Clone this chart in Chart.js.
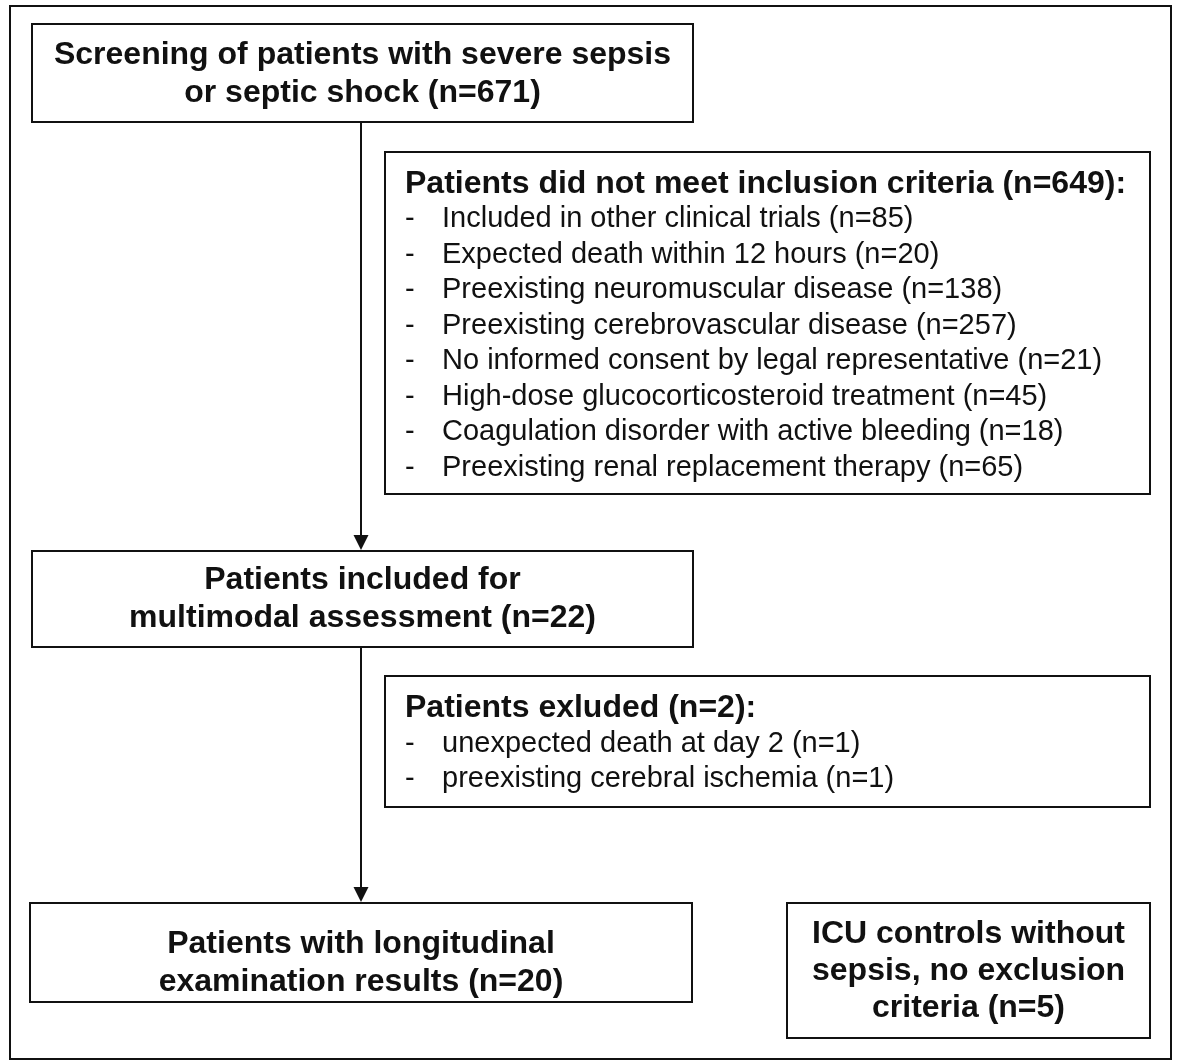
<!DOCTYPE html>
<html>
<head>
<meta charset="utf-8">
<script src="https://cdn.jsdelivr.net/npm/chart.js@4/dist/chart.umd.min.js"></script>
<style>
  html,body{margin:0;padding:0;background:#fff;}
  #wrap{width:1178px;height:1061px;position:relative;}
</style>
</head>
<body>
<div id="wrap"><canvas id="flow"></canvas></div>
<script>
// flowchart content
const screeningLines = ['Screening of patients with severe sepsis', 'or septic shock (n=671)'];
const notMetTitle = 'Patients did not meet inclusion criteria (n=649):';
const notMetReasons = [
  'Included in other clinical trials',
  'Expected death within 12 hours',
  'Preexisting neuromuscular disease',
  'Preexisting cerebrovascular disease',
  'No informed consent by legal representative',
  'High-dose glucocorticosteroid treatment',
  'Coagulation disorder with active bleeding',
  'Preexisting renal replacement therapy'
];
const notMetCounts = [85, 20, 138, 257, 21, 45, 18, 65];
const includedLines = ['Patients included for', 'multimodal assessment (n=22)'];
const excludedTitle = 'Patients exluded (n=2):';
const excludedReasons = ['unexpected death at day 2', 'preexisting cerebral ischemia'];
const excludedCounts = [1, 1];
const longitudinalLines = ['Patients with longitudinal', 'examination results (n=20)'];
const controlLines = ['ICU controls without', 'sepsis, no exclusion', 'criteria (n=5)'];

// layout in page units (x: 0..1178, y: 0..1061 top-down)
const boxes = [
  {x0:32, y0:24, x1:693, y1:122, lines:screeningLines, align:'center', base:64, step:38},
  {x0:385, y0:152, x1:1150, y1:494, title:notMetTitle, items:notMetReasons.map((r,i)=>`${r} (n=${notMetCounts[i]})`), base:193, first:227, step:35.5},
  {x0:32, y0:551, x1:693, y1:647, lines:includedLines, align:'center', base:589, step:38},
  {x0:385, y0:676, x1:1150, y1:807, title:excludedTitle, items:excludedReasons.map((r,i)=>`${r} (n=${excludedCounts[i]})`), base:717, first:752, step:35},
  {x0:30, y0:903, x1:692, y1:1002, lines:longitudinalLines, align:'center', base:953, step:38},
  {x0:787, y0:903, x1:1150, y1:1038, lines:controlLines, align:'center', base:943, step:37}
];
const arrows = [{x:361, y0:122, y1:551}, {x:361, y0:647, y1:903}];

const BOLD = 'bold 32px "Liberation Sans", Arial, sans-serif';
const REG = '29px "Liberation Sans", Arial, sans-serif';
const INK = '#111';

const flowPlugin = {
  id:'flow',
  afterDraw(chart){
    const {ctx} = chart;
    const sx = v => chart.scales.x.getPixelForValue(v);
    const sy = v => chart.scales.y.getPixelForValue(v);
    ctx.save();
    ctx.strokeStyle = INK;
    ctx.fillStyle = INK;
    ctx.lineWidth = 2;
    // outer frame
    ctx.strokeRect(sx(10), sy(6), sx(1171)-sx(10), sy(1059)-sy(6));
    boxes.forEach(b=>{
      ctx.strokeRect(sx(b.x0), sy(b.y0), sx(b.x1)-sx(b.x0), sy(b.y1)-sy(b.y0));
      ctx.textBaseline = 'alphabetic';
      if(b.lines){
        ctx.font = BOLD;
        ctx.textAlign = 'center';
        const cx = sx((b.x0+b.x1)/2);
        b.lines.forEach((l,i)=>ctx.fillText(l, cx, sy(b.base + i*b.step)));
      }else{
        ctx.font = BOLD;
        ctx.textAlign = 'left';
        ctx.fillText(b.title, sx(b.x0+20), sy(b.base));
        ctx.font = REG;
        b.items.forEach((t,i)=>{
          const y = sy(b.first + i*b.step);
          ctx.fillText('-', sx(b.x0+20), y);
          ctx.fillText(t, sx(b.x0+57), y);
        });
      }
    });
    arrows.forEach(a=>{
      const x = sx(a.x);
      ctx.beginPath();
      ctx.moveTo(x, sy(a.y0));
      ctx.lineTo(x, sy(a.y1-14));
      ctx.stroke();
      ctx.beginPath();
      ctx.moveTo(x-7.5, sy(a.y1-16));
      ctx.lineTo(x+7.5, sy(a.y1-16));
      ctx.lineTo(x, sy(a.y1-1));
      ctx.closePath();
      ctx.fill();
    });
    ctx.restore();
  }
};

new Chart(document.getElementById('flow'), {
  type:'scatter',
  data:{datasets:[{data:[], pointRadius:0}]},
  options:{
    responsive:true,
    maintainAspectRatio:false,
    animation:false,
    layout:{padding:0},
    plugins:{legend:{display:false}, tooltip:{enabled:false}},
    scales:{
      x:{type:'linear', min:0, max:1178, display:false},
      y:{type:'linear', min:0, max:1061, reverse:true, display:false}
    }
  },
  plugins:[flowPlugin]
});
</script>
</body>
</html>
